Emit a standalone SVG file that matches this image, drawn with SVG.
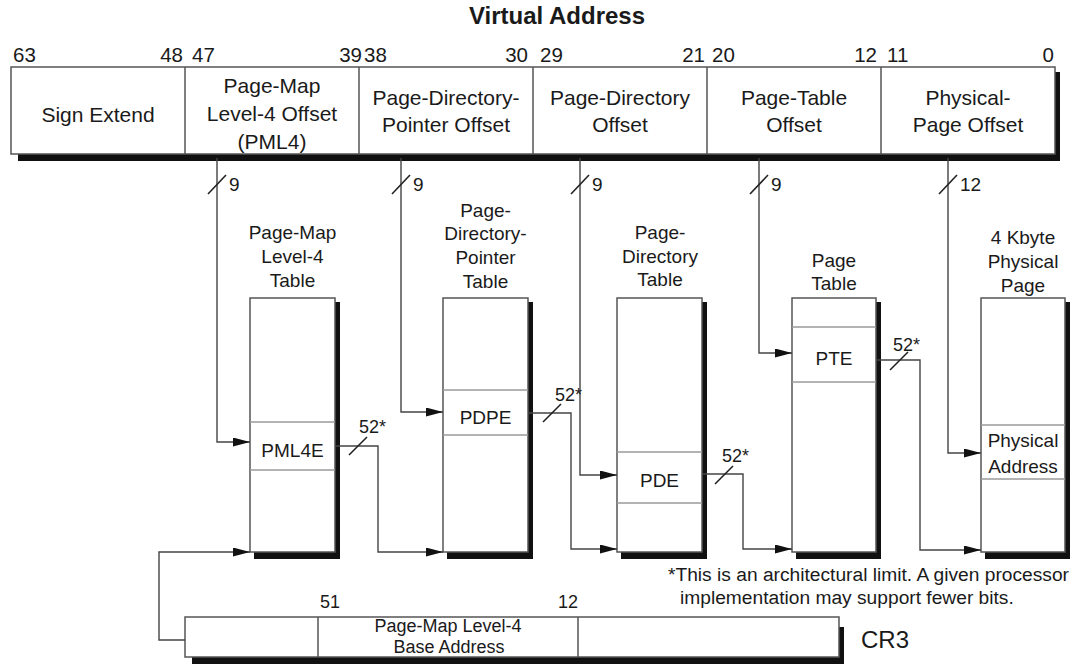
<svg xmlns="http://www.w3.org/2000/svg" width="1080" height="669" viewBox="0 0 1080 669">
<defs>
<style>
text{font-family:"Liberation Sans",Arial,Helvetica,sans-serif;fill:#1a1a1a}
.t{font-size:19px;text-anchor:middle}
.f{font-size:21px;text-anchor:middle}
.b{font-size:20.5px}
.s{font-size:19px}
.box{fill:#fff;stroke:#555;stroke-width:1.5}
.sh{fill:#111}
.row{stroke:#9a9a9a;stroke-width:1.5;fill:none}
.c{fill:none;stroke:#444;stroke-width:1.4}
.sl{stroke:#222;stroke-width:1.6}
</style>
<marker id="ah" viewBox="0 0 17 9" refX="17" refY="4.5" markerWidth="17" markerHeight="9" markerUnits="userSpaceOnUse" orient="auto">
<path d="M0,0 L17,4.5 L0,9 Z" fill="#111"/>
</marker>
</defs>
<rect width="1080" height="669" fill="#fff"/>

<g id="title">
<text x="557" y="24" style="font-size:24px;font-weight:bold;text-anchor:middle">Virtual Address</text>
</g>

<g id="virtual-address">
<rect class="sh" x="18" y="72" width="1042" height="89"/>
<rect class="box" x="11" y="67" width="1044" height="87"/>
<line x1="185" y1="67" x2="185" y2="154" stroke="#555" stroke-width="1.5"/>
<line x1="359" y1="67" x2="359" y2="154" stroke="#555" stroke-width="1.5"/>
<line x1="533" y1="67" x2="533" y2="154" stroke="#555" stroke-width="1.5"/>
<line x1="707" y1="67" x2="707" y2="154" stroke="#555" stroke-width="1.5"/>
<line x1="881" y1="67" x2="881" y2="154" stroke="#555" stroke-width="1.5"/>
<text class="b" x="13" y="62">63</text>
<text class="b" x="183" y="62" text-anchor="end">48</text>
<text class="b" x="192" y="62">47</text>
<text class="b" x="362" y="62" text-anchor="end">39</text>
<text class="b" x="364" y="62">38</text>
<text class="b" x="528" y="62" text-anchor="end">30</text>
<text class="b" x="540" y="62">29</text>
<text class="b" x="705" y="62" text-anchor="end">21</text>
<text class="b" x="712" y="62">20</text>
<text class="b" x="877" y="62" text-anchor="end">12</text>
<text class="b" x="887" y="62">11</text>
<text class="b" x="1054" y="62" text-anchor="end">0</text>
<text class="f" x="98" y="122">Sign Extend</text>
<text class="f" x="272" y="93">Page-Map</text>
<text class="f" x="272" y="121">Level-4 Offset</text>
<text class="f" x="272" y="149">(PML4)</text>
<text class="f" x="446" y="105">Page-Directory-</text>
<text class="f" x="446" y="132">Pointer Offset</text>
<text class="f" x="620" y="105">Page-Directory</text>
<text class="f" x="620" y="132">Offset</text>
<text class="f" x="794" y="105">Page-Table</text>
<text class="f" x="794" y="132">Offset</text>
<text class="f" x="968" y="105">Physical-</text>
<text class="f" x="968" y="132">Page Offset</text>
</g>

<g id="pml4-table">
<text class="t" x="292.5" y="239">Page-Map</text>
<text class="t" x="292.5" y="263">Level-4</text>
<text class="t" x="292.5" y="287">Table</text>
<rect class="sh" x="254" y="302" width="86" height="257"/>
<rect class="box" x="250" y="298" width="85" height="254"/>
<line class="row" x1="250" y1="422" x2="335" y2="422"/>
<line class="row" x1="250" y1="470" x2="335" y2="470"/>
<text class="t" x="292.5" y="457">PML4E</text>
</g>

<g id="pdp-table">
<text class="t" x="485.5" y="217">Page-</text>
<text class="t" x="485.5" y="240">Directory-</text>
<text class="t" x="485.5" y="264">Pointer</text>
<text class="t" x="485.5" y="288">Table</text>
<rect class="sh" x="447" y="302" width="86" height="257"/>
<rect class="box" x="443" y="298" width="85" height="254"/>
<line class="row" x1="443" y1="390" x2="528" y2="390"/>
<line class="row" x1="443" y1="435" x2="528" y2="435"/>
<text class="t" x="485.5" y="424">PDPE</text>
</g>

<g id="pd-table">
<text class="t" x="660" y="239">Page-</text>
<text class="t" x="660" y="263">Directory</text>
<text class="t" x="660" y="286">Table</text>
<rect class="sh" x="621" y="302" width="86" height="257"/>
<rect class="box" x="617" y="298" width="85" height="254"/>
<line class="row" x1="617" y1="452" x2="702" y2="452"/>
<line class="row" x1="617" y1="503" x2="702" y2="503"/>
<text class="t" x="659.5" y="487">PDE</text>
</g>

<g id="page-table">
<text class="t" x="834" y="267">Page</text>
<text class="t" x="834" y="290">Table</text>
<rect class="sh" x="796" y="302" width="85" height="257"/>
<rect class="box" x="792" y="298" width="84" height="254"/>
<line class="row" x1="792" y1="327" x2="876" y2="327"/>
<line class="row" x1="792" y1="382" x2="876" y2="382"/>
<text class="t" x="834" y="365">PTE</text>
</g>

<g id="physical-page">
<text class="t" x="1023" y="244">4 Kbyte</text>
<text class="t" x="1023" y="268">Physical</text>
<text class="t" x="1023" y="292">Page</text>
<rect class="sh" x="985" y="302" width="85" height="257"/>
<rect class="box" x="981" y="298" width="84" height="254"/>
<line class="row" x1="981" y1="425" x2="1065" y2="425"/>
<line class="row" x1="981" y1="479" x2="1065" y2="479"/>
<text class="t" x="1023" y="447">Physical</text>
<text class="t" x="1023" y="473">Address</text>
</g>

<g id="cr3">
<rect class="sh" x="192" y="627" width="652" height="37"/>
<rect class="box" x="185" y="617" width="654" height="40"/>
<line x1="318" y1="617" x2="318" y2="657" stroke="#555" stroke-width="1.5"/>
<line x1="578" y1="617" x2="578" y2="657" stroke="#555" stroke-width="1.5"/>
<text x="320" y="608" style="font-size:18px">51</text>
<text x="578" y="608" style="font-size:18px;text-anchor:end">12</text>
<text x="448" y="632" style="font-size:18px;text-anchor:middle">Page-Map Level-4</text>
<text x="449" y="653" style="font-size:18px;text-anchor:middle">Base Address</text>
<text x="861" y="648" style="font-size:24px">CR3</text>
</g>

<g id="footnote">
<text x="668" y="581" style="font-size:19.2px">*This is an architectural limit. A given processor</text>
<text x="680" y="604" style="font-size:19.2px">implementation may support fewer bits.</text>
</g>

<g id="connectors">
<path class="c" d="M217,158 V442 H250" marker-end="url(#ah)"/>
<path class="c" d="M401,158 V412 H443" marker-end="url(#ah)"/>
<path class="c" d="M580,158 V475 H617" marker-end="url(#ah)"/>
<path class="c" d="M759,158 V353 H792" marker-end="url(#ah)"/>
<path class="c" d="M948,158 V453 H981" marker-end="url(#ah)"/>
<path class="c" d="M335,446 H378 V552 H443" marker-end="url(#ah)"/>
<path class="c" d="M528,413 H571 V549 H617" marker-end="url(#ah)"/>
<path class="c" d="M702,474 H743 V549 H792" marker-end="url(#ah)"/>
<path class="c" d="M876,360 H920 V550 H981" marker-end="url(#ah)"/>
<path class="c" d="M185,640 H159 V552 H250" marker-end="url(#ah)"/>
<line class="sl" x1="208" y1="194" x2="226" y2="175"/>
<line class="sl" x1="392" y1="194" x2="410" y2="175"/>
<line class="sl" x1="571" y1="194" x2="589" y2="175"/>
<line class="sl" x1="750" y1="194" x2="768" y2="175"/>
<line class="sl" x1="939" y1="194" x2="957" y2="175"/>
<text class="s" x="229" y="191">9</text>
<text class="s" x="413" y="191">9</text>
<text class="s" x="592" y="191">9</text>
<text class="s" x="771" y="191">9</text>
<text class="s" x="960" y="191">12</text>
<line class="sl" x1="349" y1="455" x2="367" y2="437"/>
<line class="sl" x1="543" y1="422" x2="561" y2="404"/>
<line class="sl" x1="715" y1="484" x2="733" y2="466"/>
<line class="sl" x1="890" y1="370" x2="908" y2="352"/>
<text x="359" y="433" style="font-size:18px">52*</text>
<text x="555" y="401" style="font-size:18px">52*</text>
<text x="722" y="462" style="font-size:18px">52*</text>
<text x="893" y="351" style="font-size:18px">52*</text>
</g>
</svg>
